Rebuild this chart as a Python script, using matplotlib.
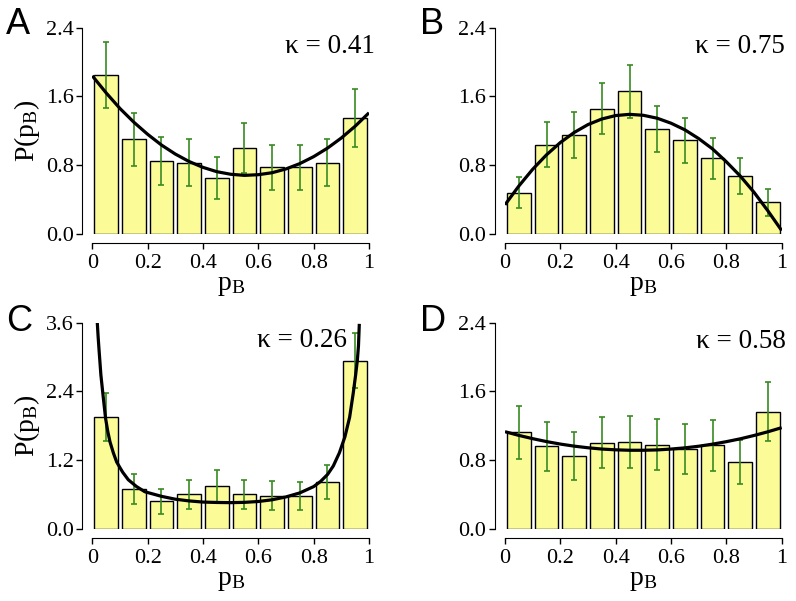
import numpy as np
import matplotlib
matplotlib.use("Agg")
import matplotlib.pyplot as plt

plt.rcParams['font.family'] = ['Liberation Serif', 'DejaVu Serif']
plt.rcParams['mathtext.fontset'] = 'custom'
plt.rcParams['mathtext.rm'] = 'Liberation Serif'
plt.rcParams['mathtext.it'] = 'Liberation Serif:italic'

# bin centres of the histograms
centers = [0.05, 0.15, 0.25, 0.35, 0.45, 0.55, 0.65, 0.75, 0.85, 0.95]

# panel A
bars_a = [1.85, 1.10, 0.85, 0.83, 0.65, 1.00, 0.775, 0.775, 0.83, 1.35]
err_a = [0.38, 0.31, 0.28, 0.27, 0.24, 0.29, 0.26, 0.26, 0.27, 0.34]
curve_a_x = [0.0, 0.05, 0.1, 0.15, 0.2, 0.25, 0.3, 0.35, 0.4, 0.45, 0.5, 0.55,
             0.6, 0.65, 0.7, 0.75, 0.8, 0.85, 0.9, 0.95, 1.0]
curve_a_y = [1.84, 1.642, 1.46, 1.301, 1.16, 1.035, 0.93, 0.843, 0.775, 0.725,
             0.695, 0.682, 0.69, 0.713, 0.757, 0.819, 0.90, 0.999, 1.117,
             1.254, 1.41]

# panel B
bars_b = [0.48, 1.04, 1.15, 1.46, 1.66, 1.22, 1.09, 0.88, 0.67, 0.37]
err_b = [0.18, 0.26, 0.27, 0.30, 0.31, 0.27, 0.26, 0.24, 0.21, 0.155]
curve_b_x = [0.0, 0.05, 0.1, 0.15, 0.2, 0.25, 0.3, 0.35, 0.4, 0.45, 0.5, 0.55,
             0.6, 0.65, 0.7, 0.75, 0.8, 0.85, 0.9, 0.95, 1.0]
curve_b_y = [0.34, 0.558, 0.753, 0.921, 1.064, 1.181, 1.273, 1.338, 1.378,
             1.392, 1.381, 1.347, 1.289, 1.212, 1.11, 0.99, 0.84, 0.675,
             0.485, 0.27, 0.04]

# panel C
bars_c = [1.95, 0.70, 0.48, 0.605, 0.745, 0.605, 0.58, 0.575, 0.82, 2.94]
err_c = [0.42, 0.265, 0.225, 0.25, 0.29, 0.25, 0.25, 0.245, 0.295, 0.475]
curve_c_x = [0.018, 0.021, 0.024, 0.031, 0.040, 0.048, 0.056, 0.064, 0.076,
             0.088, 0.1, 0.11, 0.13, 0.16, 0.19, 0.25, 0.3, 0.35, 0.4, 0.45,
             0.5, 0.55, 0.6, 0.65, 0.7, 0.75, 0.8, 0.825, 0.85, 0.871, 0.893,
             0.913, 0.93, 0.943, 0.952, 0.958, 0.962, 0.965]
curve_c_y = [3.60, 3.36, 3.15, 2.69, 2.28, 1.93, 1.70, 1.52, 1.33,
             1.17, 1.07, 0.99, 0.86, 0.74, 0.65, 0.57, 0.52, 0.49, 0.47, 0.463,
             0.46, 0.465, 0.48, 0.51, 0.56, 0.63, 0.74, 0.83, 0.95, 1.10, 1.33,
             1.61, 1.95, 2.37, 2.70, 2.95, 3.20, 3.58]

# panel D
bars_d = [1.125, 0.96, 0.85, 1.005, 1.015, 0.98, 0.935, 0.975, 0.78, 1.365]
err_d = [0.31, 0.29, 0.275, 0.30, 0.30, 0.295, 0.29, 0.295, 0.255, 0.345]
curve_d_x = [0.0, 0.05, 0.1, 0.15, 0.2, 0.25, 0.3, 0.35, 0.4, 0.45, 0.5, 0.55,
             0.6, 0.65, 0.7, 0.75, 0.8, 0.85, 0.9, 0.95, 1.0]
curve_d_y = [1.132, 1.089, 1.051, 1.017, 0.988, 0.964, 0.945, 0.930, 0.921,
             0.916, 0.916, 0.920, 0.930, 0.944, 0.963, 0.987, 1.016, 1.049,
             1.088, 1.131, 1.179]

kappas = ['0.41', '0.75', '0.26', '0.58']
letters = ['A', 'B', 'C', 'D']

bar_color = '#fbfb98'
err_color = '#3a8a22'

fig = plt.figure(figsize=(7.96, 6.01), dpi=100)

W, H = 796.0, 601.0
# (x of p=0, y of P=0) in pixels for each panel
origins = [(92.3, 234.0), (505.0, 234.0), (92.3, 529.0), (505.0, 529.0)]
panels = [
    (bars_a, err_a, curve_a_x, curve_a_y, 2.4, [0.0, 0.8, 1.6, 2.4], (1.022, 2.10)),
    (bars_b, err_b, curve_b_x, curve_b_y, 2.4, [0.0, 0.8, 1.6, 2.4], (1.011, 2.10)),
    (bars_c, err_c, curve_c_x, curve_c_y, 3.6, [0.0, 1.2, 2.4, 3.6], (0.919, 3.18)),
    (bars_d, err_d, curve_d_x, curve_d_y, 2.4, [0.0, 0.8, 1.6, 2.4], (1.016, 2.10)),
]

for i, (bars, errs, cx, cy, ymax, yt, kpos) in enumerate(panels):
    x0, y0 = origins[i]
    ax = fig.add_axes([x0 / W, (H - y0) / H, 276.7 / W, 206.3 / H])
    ax.bar(centers, bars, width=0.085, color=bar_color, edgecolor='black',
           linewidth=1.0, zorder=2)
    ax.errorbar(centers, bars, yerr=errs, fmt='none', ecolor=err_color,
                elinewidth=1.2, capsize=2.5, capthick=1.2, zorder=3)
    ax.plot(cx, cy, color='black', lw=2.3, zorder=4, solid_capstyle='butt',
            solid_joinstyle='round')
    ax.set_xlim(0, 1)
    ax.set_ylim(0, ymax)
    for s in ['top', 'right']:
        ax.spines[s].set_visible(False)
    ax.spines['left'].set_position(('outward', 7.5))
    ax.spines['bottom'].set_position(('outward', 6.7))
    ax.spines['left'].set_bounds(0, ymax)
    ax.spines['bottom'].set_bounds(0, 1)
    ax.set_xticks([0, 0.2, 0.4, 0.6, 0.8, 1.0])
    ax.set_xticklabels(['0', '0.2', '0.4', '0.6', '0.8', '1'])
    ax.set_yticks(yt)
    ax.set_yticklabels(['%.1f' % v for v in yt])
    ax.tick_params(direction='out', length=4, width=1, labelsize=16, pad=2)
    ax.tick_params(axis='x', pad=4)
    ax.patch.set_visible(False)
    ax.set_xlabel(r'p$_\mathrm{B}$', fontsize=20, labelpad=0)
    if i % 2 == 0:
        ax.set_ylabel(r'P(p$_\mathrm{B}$)', fontsize=20, labelpad=3)
    ax.text(kpos[0], kpos[1], u'\u03ba = ' + kappas[i], ha='right',
            va='baseline', fontsize=19.5, zorder=5)
    fig.text((6.0 if i % 2 == 0 else 419.7) / W,
             1 - (7.0 if i < 2 else 303.7) / H, letters[i],
             family=['Liberation Sans', 'DejaVu Sans'], fontsize=26,
             ha='left', va='top')

fig.savefig('out.png', dpi=100)
